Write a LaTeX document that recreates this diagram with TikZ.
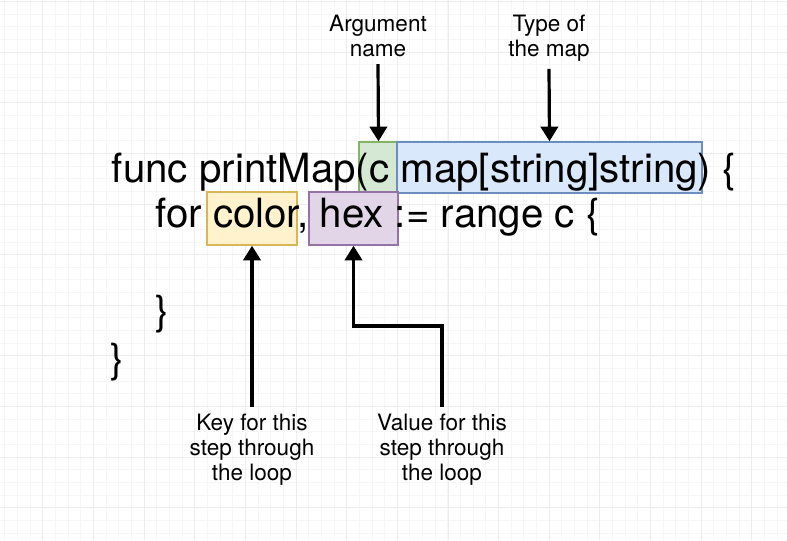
\documentclass[tikz,border=0pt]{standalone}
\usepackage{fontspec}
\setmainfont{TeX Gyre Heros}
\usepackage{tikz}
\usetikzlibrary{arrows.meta,fit}

\definecolor{argfill}{HTML}{D5E8D4}
\definecolor{argline}{HTML}{82B366}
\definecolor{typefill}{HTML}{DAE8FC}
\definecolor{typeline}{HTML}{6C8EBF}
\definecolor{keyfill}{HTML}{FFF2CC}
\definecolor{keyline}{HTML}{D6B656}
\definecolor{valfill}{HTML}{E1D5E7}
\definecolor{valline}{HTML}{9673A6}

\begin{document}
\begin{tikzpicture}[x=0.75pt,y=-0.75pt,
  codetext/.style={anchor=base west,inner sep=0,font=\fontsize{30.2}{36}\selectfont},
  note/.style={align=center,inner sep=5pt,font=\fontsize{16.9}{18.75}\selectfont},
  hl/.style={inner sep=0,line width=1.1pt},
  arr/.style={line width=2.4pt,-{Triangle[width=13pt,length=11pt]}}]
\useasboundingbox (0,0) rectangle (787,540);

% grid
\foreach \k in {0,...,61}
  \draw [black!3.5,line width=0.5pt] (4.7+12.66*\k,0) -- (4.7+12.66*\k,540);
\foreach \k in {0,...,42}
  \draw [black!3.5,line width=0.5pt] (0,1.3+12.66*\k) -- (787,1.3+12.66*\k);
\foreach \k in {0,...,15}
  \draw [black!7,line width=0.6pt] (42.7+50.65*\k,0) -- (42.7+50.65*\k,540);
\foreach \k in {0,...,10}
  \draw [black!7,line width=0.6pt] (0,1.3+50.65*\k) -- (787,1.3+50.65*\k);

% highlight boxes
\node (argbox) [hl,fill=argfill,draw=argline,fit={(359,142) (398,193)}] {};
\node (typebox) [hl,fill=typefill,draw=typeline,fit={(397,142) (702,193)}] {};
\node (colorbox) [hl,fill=keyfill,draw=keyline,fit={(207,192) (297,245)}] {};
\node (hexbox) [hl,fill=valfill,draw=valline,fit={(309,192) (398,245)}] {};

% code
\node (line1) [codetext] at (111.7,182) {func printMap(c map[string]string) \{};
\node (line2) [codetext] at (155,227) {for color, hex := range c \{};
\node (line3) [codetext] at (155,324) {\}};
\node (line4) [codetext] at (110,372) {\}};

% labels
\node (argname) [note,anchor=north] at (378,8.5) {Argument\\name};
\node (maptype) [note,anchor=north] at (549,8.5) {Type of\\the map};
\node (keytext) [note,anchor=north] at (252,407) {Key for this\\step through\\the loop};
\node (valtext) [note,anchor=north] at (442,407) {Value for this\\step through\\the loop};

\draw [arr] (argname.south) -- (argbox.north);
\draw [arr] (maptype.south) -- (typebox.north);
\draw [arr] (keytext.north) -- (colorbox.south);
\draw [arr] (valtext.north) -- ++(0,-81) -| (hexbox.south);
\end{tikzpicture}
\end{document}
